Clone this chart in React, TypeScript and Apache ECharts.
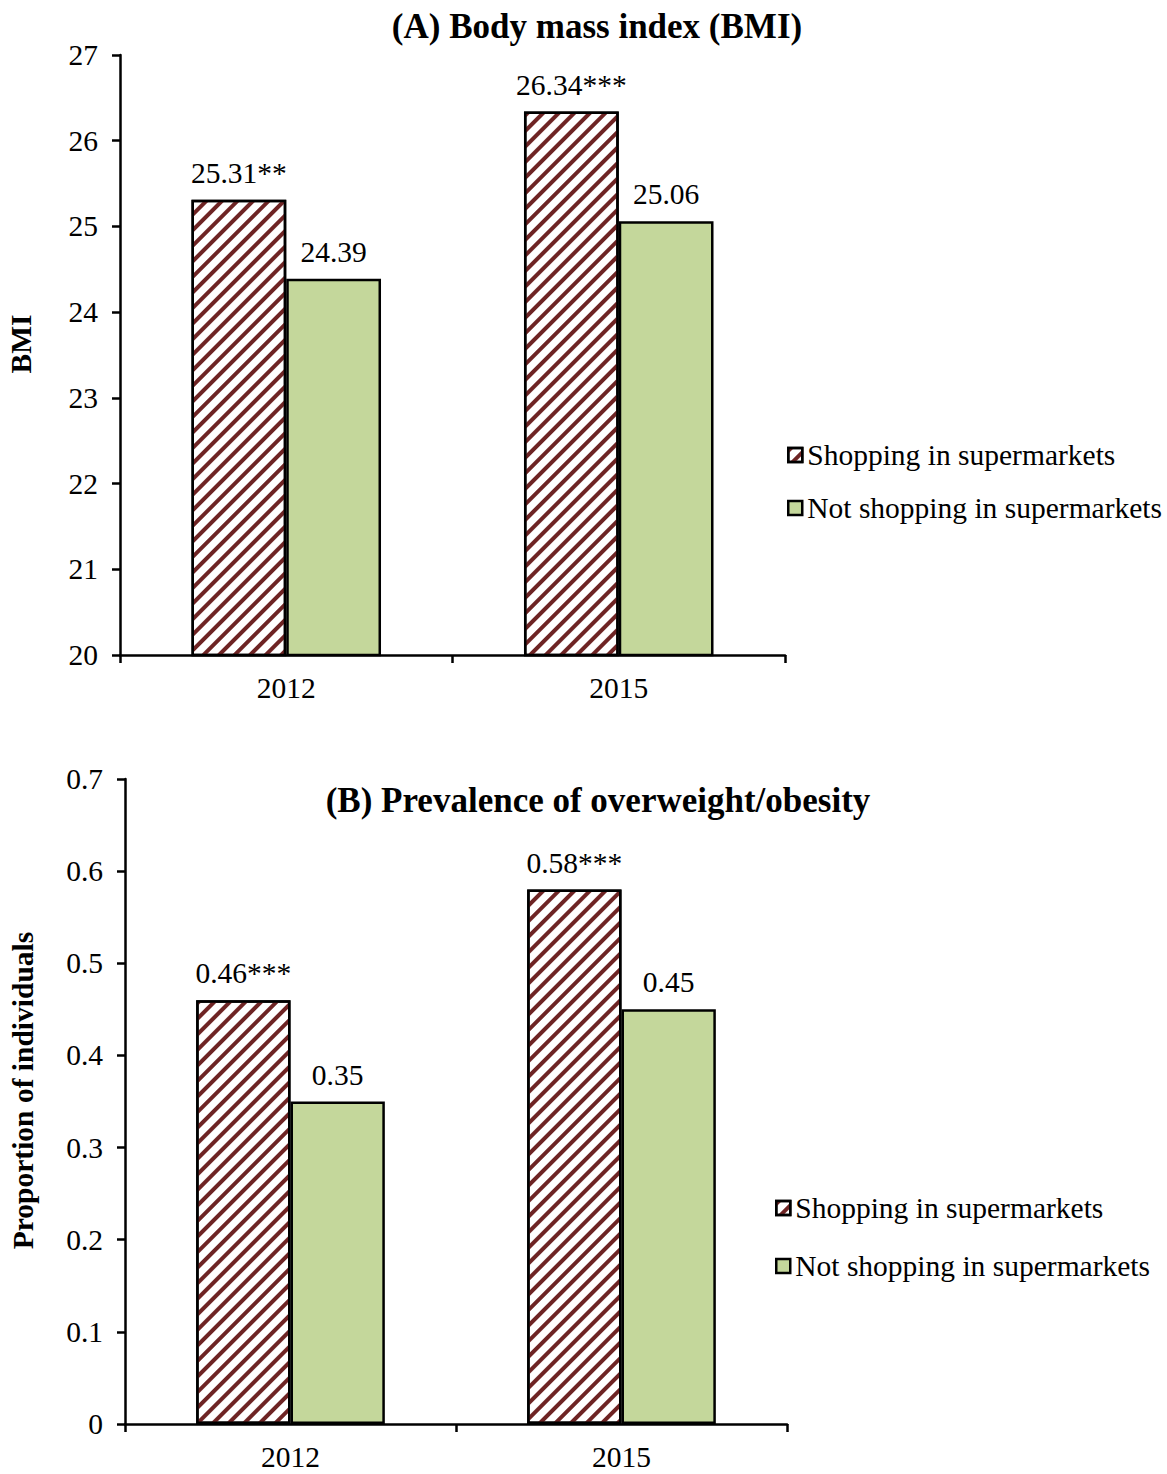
import React, { useEffect, useRef } from "react";
import * as echarts from "echarts";

// Panel A: body mass index
const years = ["2012", "2015"];
const bmiShopping = [25.31, 26.34];
const bmiNotShopping = [24.39, 25.06];
const bmiShoppingSig = ["**", "***"];

// Panel B: prevalence of overweight/obesity
const prevShopping = [0.46, 0.58];
const prevNotShopping = [0.35, 0.45];
const prevShoppingSig = ["***", "***"];

const seriesNames = ["Shopping in supermarkets", "Not shopping in supermarkets"];

const FONT = "Liberation Serif, Times New Roman, serif";
const MAROON = "#6e2424";
const GREEN = "#c4d79b";

const hatch = {
  symbol: "rect",
  symbolSize: 1,
  color: MAROON,
  dashArrayX: [1, 0],
  dashArrayY: [4, 7],
  rotation: -Math.PI / 4,
};

function App() {
  const ref = useRef<HTMLDivElement>(null);

  useEffect(() => {
    if (!ref.current) return;
    const chart = echarts.init(ref.current, undefined, { renderer: "svg" });

    const txt = { fontFamily: FONT, fontSize: 29.5, color: "#000" };

    const xAxisBase = {
      type: "category" as const,
      data: years,
      axisLine: { lineStyle: { color: "#000", width: 2.5 } },
      axisTick: { show: true, length: 8, lineStyle: { color: "#000", width: 2.5 } },
      axisLabel: { ...txt, margin: 18 },
      splitLine: { show: false },
    };

    const yAxisBase = {
      type: "value" as const,
      nameLocation: "middle" as const,
      nameTextStyle: {
        fontFamily: FONT,
        fontSize: 29.5,
        fontWeight: "bold" as const,
        color: "#000",
        padding: [0, 0, 0, 22],
      },
      axisLine: { show: true, lineStyle: { color: "#000", width: 2.5 } },
      axisTick: { show: true, length: 8, lineStyle: { color: "#000", width: 2.5 } },
      axisLabel: { ...txt, margin: 22 },
      splitLine: { show: false },
    };

    const barLabel = (sig: string[] | null) => ({
      show: true,
      position: "top" as const,
      distance: 12,
      ...txt,
      formatter: (p: any) => p.value.toFixed(2) + (sig ? sig[p.dataIndex] : ""),
    });

    const hatchedStyle = { color: "#fff", borderColor: "#000", borderWidth: 2.5, decal: hatch };
    const greenStyle = { color: GREEN, borderColor: "#000", borderWidth: 2.5 };

    const legendItem = (name: string, left: number, top: number) => ({
      data: [name],
      left,
      top,
      padding: 0,
      icon: "rect",
      itemWidth: 14,
      itemHeight: 14,
      selectedMode: false,
      itemStyle: { borderColor: "#000", borderWidth: 2.5 },
      textStyle: { ...txt, padding: [0, 0, 0, 0] },
    });

    chart.setOption({
      animation: false,
      backgroundColor: "#fff",
      title: [
        {
          text: "(A) Body mass index (BMI)",
          left: 592,
          top: 4,
          textAlign: "center",
          textStyle: { fontFamily: FONT, fontSize: 35, fontWeight: "bold", color: "#000" },
        },
        {
          text: "(B) Prevalence of overweight/obesity",
          left: 593,
          top: 778,
          textAlign: "center",
          textStyle: { fontFamily: FONT, fontSize: 35, fontWeight: "bold", color: "#000" },
        },
      ],
      legend: [
        legendItem(seriesNames[0], 787, 440),
        legendItem(seriesNames[1], 787, 493),
        legendItem(seriesNames[0], 775, 1193),
        legendItem(seriesNames[1], 775, 1251),
      ],
      grid: [
        { left: 120, top: 55, width: 665, height: 600, containLabel: false, outerBoundsMode: "none" },
        { left: 125, top: 779, width: 662, height: 645, containLabel: false, outerBoundsMode: "none" },
      ],
      xAxis: [
        { ...xAxisBase, gridIndex: 0 },
        { ...xAxisBase, gridIndex: 1 },
      ],
      yAxis: [
        { ...yAxisBase, gridIndex: 0, name: "BMI", nameGap: 84, min: 20, max: 27, interval: 1 },
        {
          ...yAxisBase,
          gridIndex: 1,
          name: "Proportion of individuals",
          nameGap: 87,
          min: 0,
          max: 0.7,
          interval: 0.1,
        },
      ],
      series: [
        {
          name: seriesNames[0],
          type: "bar",
          xAxisIndex: 0,
          yAxisIndex: 0,
          data: bmiShopping,
          barGap: "0%",
          barCategoryGap: "43%",
          itemStyle: hatchedStyle,
          label: barLabel(bmiShoppingSig),
        },
        {
          name: seriesNames[1],
          type: "bar",
          xAxisIndex: 0,
          yAxisIndex: 0,
          data: bmiNotShopping,
          barGap: "0%",
          barCategoryGap: "43%",
          itemStyle: greenStyle,
          label: barLabel(null),
        },
        {
          name: seriesNames[0],
          type: "bar",
          xAxisIndex: 1,
          yAxisIndex: 1,
          data: prevShopping,
          barGap: "0%",
          barCategoryGap: "43%",
          itemStyle: hatchedStyle,
          label: barLabel(prevShoppingSig),
        },
        {
          name: seriesNames[1],
          type: "bar",
          xAxisIndex: 1,
          yAxisIndex: 1,
          data: prevNotShopping,
          barGap: "0%",
          barCategoryGap: "43%",
          itemStyle: greenStyle,
          label: barLabel(null),
        },
      ],
    });

    return () => chart.dispose();
  }, []);

  return (
    <div
      ref={ref}
      style={{ position: "absolute", left: 0, top: 0, width: 1167, height: 1474 }}
    />
  );
}

export default App;
